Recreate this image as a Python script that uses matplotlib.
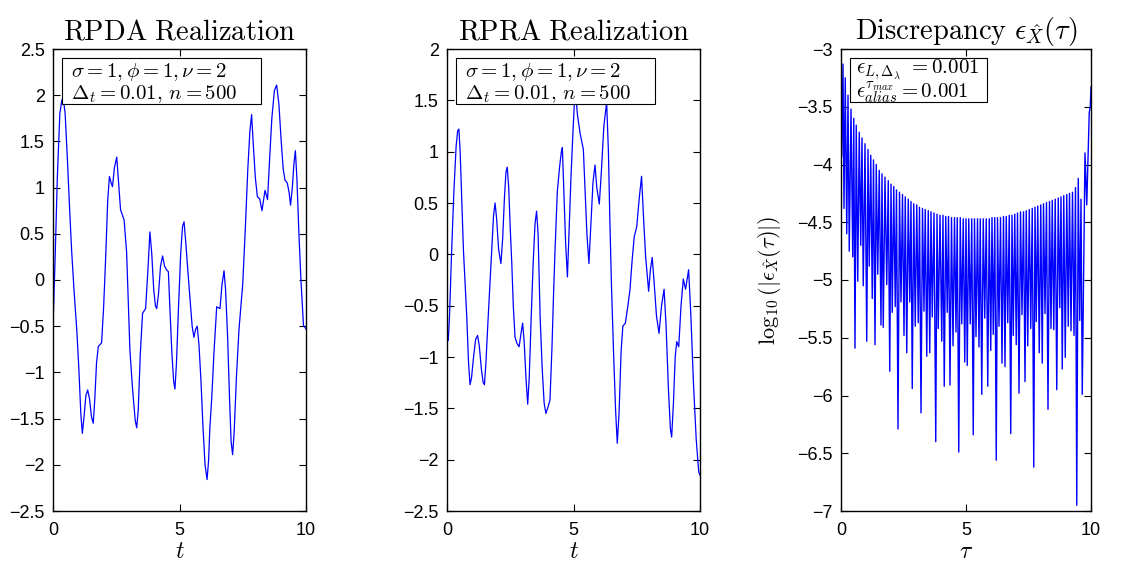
import numpy as np
import matplotlib
matplotlib.use('Agg')
import matplotlib.pyplot as plt
from matplotlib.patches import Rectangle

plt.rcParams['font.family'] = ['Liberation Sans', 'DejaVu Sans']
plt.rcParams['mathtext.fontset'] = 'cm'

# RPDA realization (t, X(t))
rpda_t = [0.00, 0.08, 0.17, 0.27, 0.35, 0.41, 0.48, 0.57, 0.66, 0.74, 0.84, 0.94, 1.02, 1.10, 1.16,
          1.22, 1.30, 1.37, 1.44, 1.52, 1.59, 1.65, 1.72, 1.79, 1.92, 2.00, 2.09, 2.16, 2.23, 2.30,
          2.35, 2.43, 2.52, 2.58, 2.67, 2.81, 2.91, 3.04, 3.15, 3.25, 3.31, 3.37, 3.45, 3.54, 3.66,
          3.75, 3.83, 3.90, 3.98, 4.05, 4.10, 4.17, 4.25, 4.33, 4.41, 4.49, 4.56, 4.62, 4.70, 4.77,
          4.82, 4.88, 4.96, 5.05, 5.12, 5.18, 5.25, 5.33, 5.42, 5.50, 5.57, 5.64, 5.70, 5.77, 5.85,
          5.93, 6.01, 6.09, 6.15, 6.20, 6.27, 6.36, 6.47, 6.60, 6.68, 6.76, 6.82, 6.90, 6.98, 7.04,
          7.10, 7.16, 7.25, 7.35, 7.50, 7.60, 7.70, 7.78, 7.85, 7.92, 8.00, 8.08, 8.17, 8.26, 8.32,
          8.38, 8.48, 8.56, 8.65, 8.75, 8.84, 8.93, 9.02, 9.10, 9.17, 9.26, 9.33, 9.39, 9.46, 9.52,
          9.58, 9.64, 9.72, 9.80, 9.90, 10.0]
rpda_x = [-0.50, 0.20, 1.10, 1.80, 1.95, 1.96, 1.80, 1.30, 0.75, 0.30, -0.15, -0.54, -0.95, -1.45, -1.66,
          -1.50, -1.25, -1.19, -1.28, -1.48, -1.55, -1.30, -0.90, -0.72, -0.68, -0.30, 0.30, 0.85, 1.12, 1.05,
          1.01, 1.22, 1.33, 1.10, 0.76, 0.65, 0.30, -0.76, -1.20, -1.52, -1.60, -1.40, -0.80, -0.36, -0.31,
          0.10, 0.52, 0.30, -0.10, -0.28, -0.31, -0.15, 0.15, 0.26, 0.15, 0.11, 0.09, -0.30, -0.80, -1.10,
          -1.18, -0.90, -0.30, 0.30, 0.58, 0.63, 0.40, 0.10, -0.22, -0.50, -0.62, -0.53, -0.50, -0.70, -1.10,
          -1.60, -2.00, -2.16, -1.95, -1.60, -1.30, -0.80, -0.29, -0.31, -0.05, 0.10, -0.10, -0.60, -1.30, -1.75,
          -1.89, -1.65, -1.05, -0.54, -0.04, 0.55, 1.20, 1.60, 1.79, 1.45, 1.10, 0.90, 0.88, 0.75, 0.86,
          0.97, 0.87, 1.30, 1.75, 2.05, 2.11, 1.90, 1.50, 1.20, 1.08, 1.05, 0.95, 0.81, 1.00, 1.25,
          1.40, 1.10, 0.50, 0.00, -0.49, -0.53]

# RPRA realization
rpra_t = [0.00, 0.05, 0.10, 0.18, 0.27, 0.36, 0.42, 0.47, 0.52, 0.58, 0.65, 0.72, 0.78, 0.85, 0.91,
          0.97, 1.05, 1.13, 1.21, 1.28, 1.36, 1.43, 1.48, 1.54, 1.62, 1.70, 1.77, 1.84, 1.90, 1.96,
          2.04, 2.13, 2.20, 2.27, 2.33, 2.38, 2.44, 2.50, 2.56, 2.62, 2.69, 2.77, 2.85, 2.92, 2.99,
          3.05, 3.12, 3.19, 3.25, 3.33, 3.41, 3.48, 3.54, 3.60, 3.68, 3.76, 3.84, 3.91, 3.99, 4.07,
          4.15, 4.21, 4.27, 4.36, 4.45, 4.52, 4.56, 4.62, 4.69, 4.76, 4.82, 4.90, 4.97, 5.03, 5.09,
          5.16, 5.26, 5.39, 5.46, 5.53, 5.61, 5.68, 5.77, 5.85, 5.92, 6.02, 6.10, 6.20, 6.31, 6.38,
          6.44, 6.50, 6.58, 6.66, 6.73, 6.80, 6.88, 6.95, 7.05, 7.15, 7.23, 7.32, 7.40, 7.50, 7.60,
          7.69, 7.77, 7.85, 7.97, 8.04, 8.11, 8.18, 8.28, 8.38, 8.48, 8.58, 8.66, 8.75, 8.83, 8.88,
          8.95, 9.02, 9.08, 9.16, 9.25, 9.34, 9.43, 9.55, 9.64, 9.74, 9.85, 9.95, 10.0]
rpra_x = [-0.72, -0.84, -0.60, 0.01, 0.60, 1.05, 1.20, 1.22, 1.00, 0.55, 0.04, -0.30, -0.60, -1.05, -1.27,
          -1.20, -1.00, -0.83, -0.79, -0.90, -1.12, -1.25, -1.27, -1.05, -0.65, -0.28, 0.05, 0.38, 0.50, 0.35,
          0.05, -0.09, 0.15, 0.55, 0.80, 0.85, 0.65, 0.25, -0.08, -0.50, -0.81, -0.87, -0.90, -0.78, -0.67,
          -0.85, -1.20, -1.46, -1.20, -0.60, -0.06, 0.30, 0.42, 0.20, -0.60, -1.10, -1.45, -1.55, -1.49, -1.42,
          -0.90, -0.40, 0.04, 0.61, 0.85, 1.00, 1.04, 0.60, 0.10, -0.22, 0.20, 0.75, 1.15, 1.45, 1.54,
          1.35, 1.18, 1.02, 0.60, 0.20, -0.09, 0.25, 0.70, 0.87, 0.65, 0.49, 0.80, 1.25, 1.48, 1.00,
          0.30, -0.30, -0.93, -1.50, -1.84, -1.55, -0.95, -0.70, -0.67, -0.50, -0.35, -0.05, 0.17, 0.27, 0.55,
          0.76, 0.35, -0.02, -0.36, -0.15, -0.03, -0.25, -0.60, -0.77, -0.50, -0.34, -0.70, -1.30, -1.70, -1.78,
          -1.45, -1.00, -0.85, -0.90, -0.50, -0.24, -0.34, -0.15, -0.60, -1.25, -1.80, -2.12, -2.15]

# discrepancy log10|eps|: dips and tops between them
dip_t = [0.03, 0.12, 0.23, 0.33, 0.47, 0.56, 0.67, 0.79, 0.89, 1.03, 1.13, 1.25, 1.36, 1.47, 1.60,
         1.69, 1.83, 1.95, 2.05, 2.17, 2.28, 2.40, 2.52, 2.63, 2.75, 2.85, 2.97, 3.09, 3.20, 3.32,
         3.43, 3.55, 3.65, 3.79, 3.89, 4.03, 4.13, 4.25, 4.36, 4.48, 4.60, 4.71, 4.83, 4.95, 5.05,
         5.17, 5.29, 5.40, 5.52, 5.63, 5.75, 5.87, 5.99, 6.09, 6.21, 6.32, 6.44, 6.56, 6.67, 6.79,
         6.89, 7.01, 7.12, 7.24, 7.36, 7.47, 7.59, 7.71, 7.81, 7.93, 8.05, 8.16, 8.28, 8.40, 8.51,
         8.63, 8.75, 8.85, 8.97, 9.09, 9.20, 9.32, 9.43, 9.55, 9.65, 9.83]
dip_y = [-3.93, -4.38, -4.60, -4.75, -4.80, -5.59, -5.01, -4.70, -5.05, -5.53, -4.88, -5.16, -5.56, -4.95, -5.39,
         -5.41, -5.04, -5.79, -5.28, -5.23, -6.29, -5.19, -5.48, -5.63, -5.19, -5.94, -5.40, -5.37, -6.15, -5.27,
         -5.66, -5.63, -5.32, -6.40, -5.42, -5.53, -5.92, -5.28, -5.91, -5.57, -5.45, -6.49, -5.38, -5.71, -5.74,
         -5.38, -6.34, -5.49, -5.58, -5.99, -5.33, -5.92, -5.61, -5.47, -6.56, -5.40, -5.72, -5.75, -5.37, -6.33,
         -5.48, -5.56, -5.98, -5.30, -5.88, -5.57, -5.42, -6.62, -5.36, -5.63, -5.72, -5.29, -6.12, -5.42, -5.43,
         -5.95, -5.24, -5.77, -5.67, -5.40, -5.44, -5.48, -6.95, -5.35, -5.99, -4.35]
top_t = [0.08, 0.17, 0.28, 0.40, 0.51, 0.61, 0.73, 0.84, 0.96, 1.08, 1.19, 1.30, 1.41, 1.53, 1.64,
         1.76, 1.89, 2.00, 2.11, 2.22, 2.34, 2.46, 2.57, 2.69, 2.80, 2.91, 3.03, 3.14, 3.26, 3.37,
         3.49, 3.60, 3.72, 3.84, 3.96, 4.08, 4.19, 4.30, 4.42, 4.54, 4.65, 4.77, 4.89, 5.00, 5.11,
         5.23, 5.34, 5.46, 5.57, 5.69, 5.81, 5.93, 6.04, 6.15, 6.26, 6.38, 6.50, 6.61, 6.73, 6.84,
         6.95, 7.06, 7.18, 7.30, 7.41, 7.53, 7.65, 7.76, 7.87, 7.99, 8.10, 8.22, 8.34, 8.45, 8.57,
         8.69, 8.80, 8.91, 9.03, 9.14, 9.26, 9.38, 9.49, 9.60, 9.76]
top_y = [-3.13, -3.25, -3.40, -3.52, -3.60, -3.66, -3.72, -3.77, -3.82, -3.87, -3.92, -3.96, -4.00, -4.05, -4.08,
         -4.11, -4.14, -4.17, -4.19, -4.22, -4.24, -4.26, -4.28, -4.30, -4.32, -4.34, -4.35, -4.37, -4.38, -4.39,
         -4.40, -4.41, -4.42, -4.43, -4.44, -4.44, -4.45, -4.45, -4.46, -4.46, -4.46, -4.46, -4.47, -4.47, -4.47,
         -4.47, -4.47, -4.47, -4.47, -4.47, -4.47, -4.47, -4.46, -4.46, -4.46, -4.46, -4.45, -4.45, -4.44, -4.44,
         -4.43, -4.42, -4.41, -4.41, -4.40, -4.39, -4.38, -4.37, -4.36, -4.35, -4.34, -4.33, -4.32, -4.31, -4.30,
         -4.29, -4.28, -4.27, -4.26, -4.25, -4.24, -4.20, -4.12, -4.30, -3.90]
start_pt = (0.0, -3.0)
end_t = [9.93, 9.97, 10.0]
end_y = [-3.55, -3.50, -3.33]

# stitch dips and tops into one line
disc_t = [start_pt[0]]
disc_y = [start_pt[1]]
for i in range(len(dip_t)):
    disc_t.append(dip_t[i])
    disc_y.append(dip_y[i])
    if i < len(top_t):
        disc_t.append(top_t[i])
        disc_y.append(top_y[i])
disc_t += end_t
disc_y += end_y

param_lines = [r'$\sigma=1,\phi=1,\nu=2$', r'$\Delta_t=0.01,\,n=500$']
eps_lines = [r'$\epsilon_{L,\Delta_\lambda}\ = 0.001$', r'$\epsilon_{alias}^{\tau_{max}} = 0.001$']

fig = plt.figure(figsize=(11.21, 5.62), dpi=100)
ax1 = fig.add_axes([53/1121, 51/562, 253/1121, 462/562])
ax2 = fig.add_axes([447/1121, 51/562, 253/1121, 462/562])
ax3 = fig.add_axes([841/1121, 51/562, 250/1121, 462/562])


def style(ax, ylim, yticks):
    ax.set_xlim(0, 10)
    ax.set_ylim(*ylim)
    ax.set_xticks([0, 5, 10])
    ax.set_yticks(yticks)
    ax.set_yticklabels([('%g' % v).replace('-', '\u2212') for v in yticks])
    ax.tick_params(direction='in', top=True, right=True, length=5, width=0.8,
                   labelsize=13)
    ax.tick_params(axis='x', pad=8)
    ax.tick_params(axis='y', pad=6)
    for s in ax.spines.values():
        s.set_linewidth(1.0)


def info_box(ax, lines, x0, x1, y0, y1, tx, ty):
    # legend-like box drawn by hand, texts on top of it
    ax.add_patch(Rectangle((x0, y0), x1 - x0, y1 - y0, transform=ax.transAxes,
                           fc='white', ec='black', lw=0.8, zorder=3))
    for line, yy in zip(lines, ty):
        ax.text(tx, yy, line, transform=ax.transAxes, ha='left', va='center',
                fontsize=15, zorder=4)


ax1.plot(rpda_t, rpda_x, color='#0000ff', lw=0.9)
style(ax1, (-2.5, 2.5), np.arange(-2.5, 2.51, 0.5))
ax1.set_title(r'$\mathrm{RPDA\ Realization}$', fontsize=20.5, pad=7)
ax1.set_xlabel(r'$t$', fontsize=17, labelpad=1)
info_box(ax1, param_lines, 0.036, 0.822, 0.881, 0.9805, 0.072, [0.950, 0.903])

ax2.plot(rpra_t, rpra_x, color='#0000ff', lw=0.9)
style(ax2, (-2.5, 2.0), np.arange(-2.5, 2.01, 0.5))
ax2.set_title(r'$\mathrm{RPRA\ Realization}$', fontsize=20.5, pad=7)
ax2.set_xlabel(r'$t$', fontsize=17, labelpad=1)
info_box(ax2, param_lines, 0.036, 0.822, 0.881, 0.9805, 0.072, [0.950, 0.903])

ax3.plot(disc_t, disc_y, color='#0000ff', lw=1.0)
style(ax3, (-7, -3), np.arange(-7, -2.99, 0.5))
ax3.set_title(r'$\mathrm{Discrepancy}\ \epsilon_{\hat{X}}(\tau)$', fontsize=20.5, pad=7)
ax3.set_xlabel(r'$\tau$', fontsize=17, labelpad=1)
ax3.set_ylabel(r'$\log_{10}(|\epsilon_{\hat{X}}(\tau)|)$', fontsize=16, labelpad=10)
info_box(ax3, eps_lines, 0.036, 0.584, 0.885, 0.9805, 0.058, [0.955, 0.905])

fig.savefig('out.png', dpi=100)
